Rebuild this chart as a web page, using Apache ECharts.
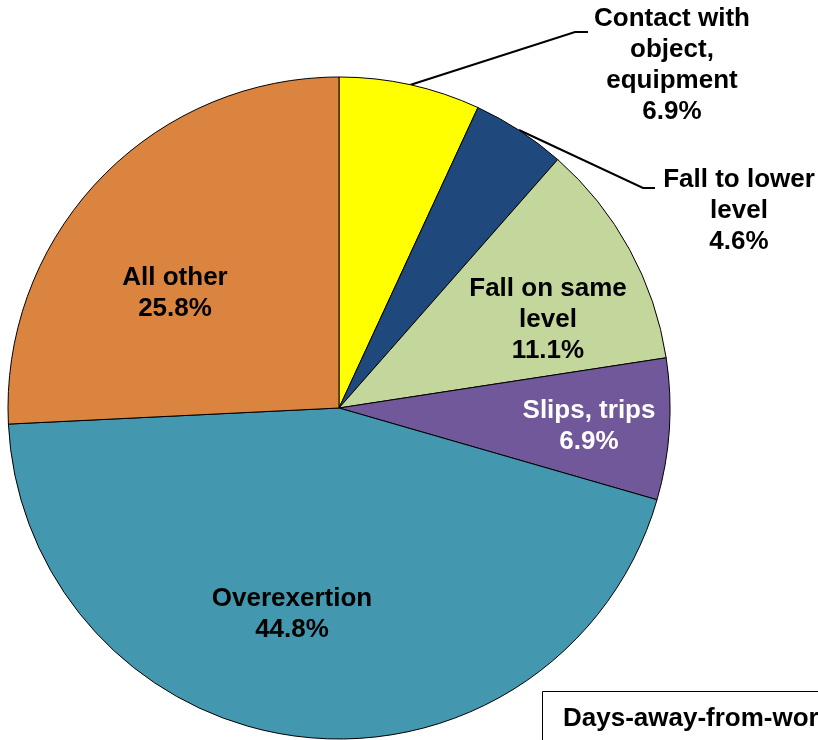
<!DOCTYPE html>
<html>
<head>
<meta charset="utf-8">
<script src="https://cdn.jsdelivr.net/npm/echarts@6/dist/echarts.min.js"></script>
<style>
  html, body { margin: 0; padding: 0; background: #fff; }
  #chart { width: 818px; height: 740px; }
</style>
</head>
<body>
<div id="chart"></div>
<script>
// slices, clockwise from 12 o'clock
const categories = [
  'Contact with\nobject,\nequipment',
  'Fall to lower\nlevel',
  'Fall on same\nlevel',
  'Slips, trips',
  'Overexertion',
  'All other'
];
const shares = [6.9, 4.6, 11.1, 6.9, 44.8, 25.8];
const boxTitle = 'Days-away-from-work cases';

const colors = ['#FFFF00', '#1F497D', '#C3D69B', '#71589A', '#4398B0', '#DB843F'];
const labelColors = ['#000', '#000', '#000', '#fff', '#000', '#000'];
// label centres and leader lines (null = label sits inside slice)
const labelPos = [[672, 65], [739, 211], [548, 320], [589, 426], [292, 614], [175, 293]];
const leaders = [
  [[410, 85], [575, 32], [588, 32]],
  [[519, 130], [643, 188], [655, 188]],
  null, null, null, null
];

const chart = echarts.init(document.getElementById('chart'));

const data = categories.map((name, i) => ({
  name: name,
  value: shares[i],
  itemStyle: { color: colors[i] },
  label: { color: labelColors[i] },
  labelLine: { show: !!leaders[i] }
}));

chart.setOption({
  animation: false,
  backgroundColor: '#fff',
  series: [{
    type: 'pie',
    center: [339, 408],
    radius: 331,
    startAngle: 90,
    clockwise: true,
    avoidLabelOverlap: false,
    data: data,
    itemStyle: { borderColor: '#000', borderWidth: 1 },
    label: {
      show: true,
      position: 'outside',
      formatter: p => p.name + '\n' + p.value.toFixed(1) + '%',
      fontFamily: 'Liberation Sans, Arial, sans-serif',
      fontWeight: 'bold',
      fontSize: 26,
      lineHeight: 31,
      align: 'center'
    },
    labelLine: { lineStyle: { color: '#000', width: 2 } },
    labelLayout: params => {
      const i = params.dataIndex;
      const out = {
        x: labelPos[i][0],
        y: labelPos[i][1],
        align: 'center',
        verticalAlign: 'middle'
      };
      if (leaders[i]) out.labelLinePoints = leaders[i];
      return out;
    },
    emphasis: { disabled: true }
  }],
  graphic: [
    {
      type: 'rect',
      shape: { x: 542.5, y: 691.5, width: 300, height: 80 },
      style: { fill: '#fff', stroke: '#000', lineWidth: 1 }
    },
    {
      type: 'text',
      x: 563, y: 706,
      style: {
        text: boxTitle,
        fill: '#000',
        font: 'bold 26px Liberation Sans, Arial, sans-serif'
      }
    }
  ]
});
</script>
</body>
</html>
